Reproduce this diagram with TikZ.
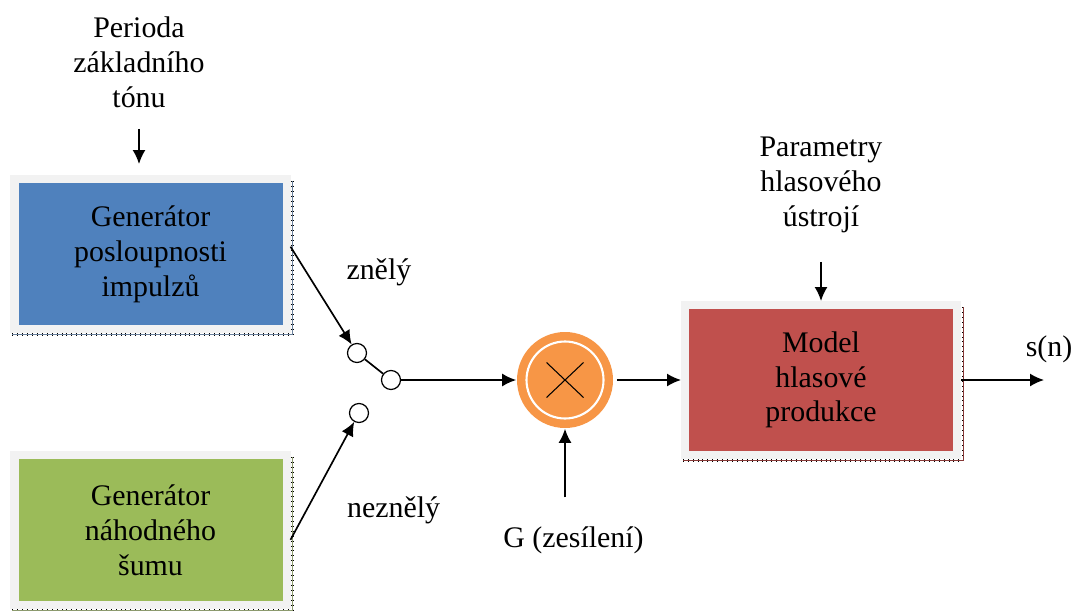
\documentclass[tikz,border=0pt]{standalone}
\usepackage{fontspec}
\setmainfont{Liberation Serif}
\usepackage{tikz}
\usetikzlibrary{arrows.meta}

\definecolor{boxblue}{HTML}{4F81BD}
\definecolor{boxgreen}{HTML}{9BBB59}
\definecolor{boxred}{HTML}{C0504D}
\definecolor{mulorange}{HTML}{F79646}
\definecolor{framegray}{HTML}{F2F2F2}

\begin{document}
\begin{tikzpicture}[
    line width = 0.95pt,
    >={Latex[length = 0.28cm, width = 0.26cm]},
    font = \fontsize{17}{19.8}\selectfont,
    block/.style = {rectangle,
      draw = framegray,
      line width = 0.16cm,
      minimum width = 5.44cm,
      minimum height = 3.0cm,
      align = center},
    source/.style = {align = center},
    contact/.style = {circle,
      draw,
      line width = 0.7pt,
      fill = white,
      minimum size = 0.38cm,
      inner sep = 0pt},
    multiplier/.style = {circle,
      fill = mulorange,
      minimum size = 1.92cm,
      inner sep = 0pt,
      path picture = {
        \draw [white, line width = 1.2pt]
        (path picture bounding box.center) circle (0.77cm);
        \draw [line width = 0.6pt]
        ([shift = {(-0.37, 0.35)}] path picture bounding box.center) --
        ([shift = {(0.37, -0.35)}] path picture bounding box.center);
        \draw [line width = 0.6pt]
        ([shift = {(-0.37, -0.35)}] path picture bounding box.center) --
        ([shift = {(0.37, 0.35)}] path picture bounding box.center);
      }},
    edgeline/.style = {line width = 0.4pt,
      preaction = {draw, line width = 1.4pt,
        dash pattern = on 0.4pt off 2.4pt}},
    ]

    \useasboundingbox (0, 0) rectangle (21.46, 12.2);

    \node at (2.78, 10.96)
    [source, name = period] {Perioda\\základního\\tónu};

    \node at (3.01, 7.12)
    [block, fill = boxblue, name = gen_imp] {Generátor\\posloupnosti\\impulzů};
    \node at (3.01, 1.60)
    [block, fill = boxgreen, name = gen_sum] {Generátor\\náhodného\\šumu};

    \node at (7.14, 5.14) [contact, name = sw_v] {};
    \node at (7.82, 4.60) [contact, name = sw_out] {};
    \node at (7.18, 3.94) [contact, name = sw_u] {};

    \node at (11.30, 4.60) [multiplier, name = mult] {};
    \node at (11.47, 1.40) [source, name = gain] {G (zesílení)};

    \node at (16.42, 8.50)
    [source, name = params] {Parametry\\hlasového\\ústrojí};
    \node at (16.42, 4.60)
    [block, fill = boxred, name = model] {Model\\hlasové\\produkce};

    \coordinate (out) at (20.88, 4.60);

    % shadow edges of the blocks
    \draw [edgeline, boxblue!45!gray]
    ([shift = {(0.04, -0.12)}] gen_imp.north east) --
    ([shift = {(0.04, -0.03)}] gen_imp.south east) --
    ([shift = {(0.04, -0.03)}] gen_imp.south west);
    \draw [edgeline, boxgreen!45!gray]
    ([shift = {(0.04, -0.12)}] gen_sum.north east) --
    ([shift = {(0.04, -0.03)}] gen_sum.south east) --
    ([shift = {(0.04, -0.03)}] gen_sum.south west);
    \draw [edgeline, boxred!70!black]
    ([shift = {(0.04, -0.12)}] model.north east) --
    ([shift = {(0.04, -0.03)}] model.south east) --
    ([shift = {(0.04, -0.03)}] model.south west);

    \draw [->, shorten <= 0.3cm, shorten >= 0.22cm]
    (period.south) to (period.south |- gen_imp.north);
    \draw [->, shorten <= 0.45cm]
    (params.south) to (model.north);

    \draw [->] (gen_imp.3) to node [right, pos = 0.3, xshift = 0.62cm, yshift = 0.08cm]
    {znělý} (sw_v);
    \draw [->] (gen_sum.356) to node [right, pos = 0.25, xshift = 0.68cm]
    {neznělý} (sw_u);

    \draw (sw_v) to (sw_out);
    \draw [->] (sw_out) to (mult);
    \draw [->, shorten <= 0.45cm] (mult |- gain.north) to (mult);

    \draw [->, shorten <= 0.06cm] (mult) to (model);
    \draw [->] (model) to node [above, pos = 1, xshift = 0.1cm, yshift = 0.2cm]
    {s(n)} (out);
  \end{tikzpicture}
\end{document}
